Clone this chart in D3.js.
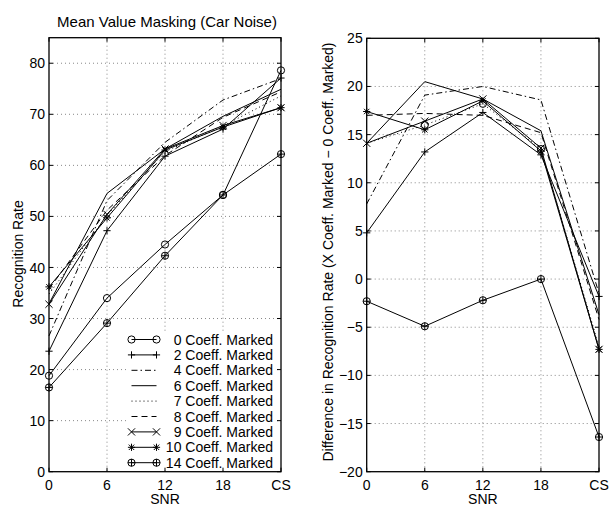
<!DOCTYPE html>
<html><head><meta charset="utf-8">
<script src="https://cdn.jsdelivr.net/npm/d3@7"></script>
<style>
html,body{margin:0;padding:0;background:#fff;}
svg{display:block;font-family:"Liberation Sans",Arial,Helvetica,sans-serif;}
</style></head>
<body><svg id="c" width="611" height="505"></svg>
<script>
// ---- data ----
const snr = ["0","6","12","18","CS"];
const seriesLabels = ["0 Coeff. Marked","2 Coeff. Marked","4 Coeff. Marked","6 Coeff. Marked","7 Coeff. Marked","8 Coeff. Marked","9 Coeff. Marked","10 Coeff. Marked","14 Coeff. Marked"];
const rate0  = [18.8, 34.0, 44.5, 54.2, 78.6];
const rate2  = [23.6, 47.2, 61.8, 67.1, 77.1];
const rate4  = [26.6, 53.1, 64.5, 72.8, 77.0];
const rate6  = [32.9, 54.5, 63.2, 69.6, 74.9];
const rate7  = [34.8, 50.2, 62.7, 67.7, 73.6];
const rate8  = [35.8, 51.2, 61.9, 69.4, 74.4];
const rate9  = [32.8, 50.4, 63.2, 67.8, 71.3];
const rate10 = [36.2, 49.7, 63.0, 67.5, 71.3];
const rate14 = [16.5, 29.1, 42.3, 54.2, 62.2];
const diff2  = [4.8, 13.2, 17.3, 12.9, -1.8];
const diff4  = [7.8, 19.1, 20.0, 18.6, -1.5];
const diff6  = [14.1, 20.5, 18.7, 15.4, -3.7];
const diff7  = [14.1, 16.0, 18.2, 13.5, -7.0];
const diff7Markers = [null, "o", "o", "o", null];
const diff8  = [17.0, 17.2, 17.0, 15.2, -4.2];
const diff9  = [14.1, 16.4, 18.7, 13.6, -7.3];
const diff10 = [17.4, 15.5, 18.5, 13.3, -7.3];
const diff14 = [-2.3, -4.9, -2.2, 0.0, -16.4];
const leftTicks = [0,10,20,30,40,50,60,70,80];
const rightTicks = [-20,-15,-10,-5,0,5,10,15,20,25];
const titleText = "Mean Value Masking (Car Noise)";
const xLabel = "SNR";
const leftYLabel = "Recognition Rate";
const rightYLabel = "Difference in Recognition Rate (X Coeff. Marked \u2212 0 Coeff. Marked)";

// ---- styles ----
const styles = {
  "0":  {dash:null, marker:"o"},
  "2":  {dash:null, marker:"+"},
  "4":  {dash:"6,3,1.5,3", marker:null},
  "6":  {dash:null, marker:null},
  "7":  {dash:"1,3", marker:null},
  "8":  {dash:"6,4", marker:null},
  "9":  {dash:null, marker:"x"},
  "10": {dash:null, marker:"*"},
  "14": {dash:null, marker:"op"}
};
const leftSeries = [["0",rate0],["2",rate2],["4",rate4],["6",rate6],["7",rate7],["8",rate8],["9",rate9],["10",rate10],["14",rate14]];
const rightSeries = [["2",diff2],["4",diff4],["6",diff6],["7",diff7,diff7Markers],["8",diff8],["9",diff9],["10",diff10],["14",diff14]];

const svg = d3.select("#c");
const FS = 14;

function drawMarker(g, type, x, y){
  const r = 3.6;
  function ln(x1,y1,x2,y2){ g.append("line").attr("x1",x1).attr("y1",y1).attr("x2",x2).attr("y2",y2).attr("stroke","#000").attr("stroke-width",1); }
  if(type==="o"||type==="op"){
    g.append("circle").attr("cx",x).attr("cy",y).attr("r",r).attr("fill","none").attr("stroke","#000").attr("stroke-width",1);
    if(type==="op"){ ln(x-r,y,x+r,y); ln(x,y-r,x,y+r); }
  } else if(type==="+"){
    ln(x-r,y,x+r,y); ln(x,y-r,x,y+r);
  } else if(type==="x"){
    ln(x-r,y-r,x+r,y+r); ln(x-r,y+r,x+r,y-r);
  } else if(type==="*"){
    ln(x-r,y,x+r,y); ln(x,y-r,x,y+r);
    const q=r*0.75; ln(x-q,y-q,x+q,y+q); ln(x-q,y+q,x+q,y-q);
  }
}

function panel(opt){
  const x = d3.scalePoint().domain(snr).range([opt.x0,opt.x1]);
  const y = d3.scaleLinear().domain(opt.ydom).range([opt.y1,opt.y0]);
  const g = svg.append("g");
  // grid
  g.selectAll(".gx").data(snr.slice(1,-1)).enter().append("line")
    .attr("x1",d=>x(d)).attr("x2",d=>x(d)).attr("y1",opt.y0).attr("y2",opt.y1)
    .attr("stroke","#888").attr("stroke-width",1).attr("stroke-dasharray","1,3");
  g.selectAll(".gy").data(opt.gridTicks).enter().append("line")
    .attr("x1",opt.x0).attr("x2",opt.x1).attr("y1",d=>y(d)).attr("y2",d=>y(d))
    .attr("stroke","#888").attr("stroke-width",1).attr("stroke-dasharray","1,3");
  // series
  const line = d3.line().x((d,i)=>x(snr[i])).y(d=>y(d));
  opt.series.forEach(([key,vals,mk])=>{
    const st = styles[key];
    g.append("path").attr("d",line(vals)).attr("fill","none").attr("stroke","#000")
      .attr("stroke-width",1).attr("stroke-dasharray",st.dash);
    vals.forEach((v,i)=>{
      const m = mk ? mk[i] : st.marker;
      if(m) drawMarker(g,m,x(snr[i]),y(v));
    });
  });
  // legend
  if(opt.legend){
    const lg = svg.append("g");
    lg.append("rect").attr("x",126).attr("y",331).attr("width",150).attr("height",139).attr("fill","#fff");
    seriesLabels.forEach((lab,i)=>{
      const key = lab.split(" ")[0];
      const st = styles[key];
      const cy = 339.5 + i*15.4;
      lg.append("line").attr("x1",131.5).attr("x2",156.5).attr("y1",cy).attr("y2",cy)
        .attr("stroke","#000").attr("stroke-width",1).attr("stroke-dasharray",st.dash);
      if(st.marker){ drawMarker(lg,st.marker,131.5,cy); drawMarker(lg,st.marker,156.5,cy); }
      lg.append("text").attr("x",273).attr("y",cy).attr("dy","0.36em").attr("text-anchor","end")
        .attr("font-size",FS).text(lab);
    });
  }
  // axes box
  const a = svg.append("g");
  a.append("rect").attr("x",opt.x0).attr("y",opt.y0).attr("width",opt.x1-opt.x0).attr("height",opt.y1-opt.y0)
    .attr("fill","none").attr("stroke","#000").attr("stroke-width",1.3);
  const T = 4;
  opt.ticks.forEach(t=>{
    a.append("line").attr("x1",opt.x0).attr("x2",opt.x0+T).attr("y1",y(t)).attr("y2",y(t)).attr("stroke","#000");
    a.append("line").attr("x1",opt.x1).attr("x2",opt.x1-T).attr("y1",y(t)).attr("y2",y(t)).attr("stroke","#000");
    a.append("text").attr("x",opt.x0-4).attr("y",y(t)).attr("dy","0.36em").attr("text-anchor","end")
      .attr("font-size",FS).text(t<0?"\u2212"+Math.abs(t):t);
  });
  snr.forEach(s=>{
    a.append("line").attr("x1",x(s)).attr("x2",x(s)).attr("y1",opt.y1).attr("y2",opt.y1-T).attr("stroke","#000");
    a.append("line").attr("x1",x(s)).attr("x2",x(s)).attr("y1",opt.y0).attr("y2",opt.y0+T).attr("stroke","#000");
    a.append("text").attr("x",x(s)).attr("y",490).attr("text-anchor","middle").attr("font-size",FS).text(s);
  });
  a.append("text").attr("x",(opt.x0+opt.x1)/2).attr("y",504).attr("text-anchor","middle").attr("font-size",FS).text(xLabel);
  a.append("text").attr("transform",`translate(${opt.ylabX},${opt.ylabY}) rotate(-90)`)
    .attr("text-anchor","middle").attr("font-size",FS).text(opt.ylab);
  if(opt.title) a.append("text").attr("x",(opt.x0+opt.x1)/2+2).attr("y",27).attr("text-anchor","middle")
    .attr("font-size",15).text(opt.title);
}

panel({x0:49,x1:281,y0:37.7,y1:471.7,ydom:[0,85],ticks:leftTicks,gridTicks:[10,20,30,40,50,60,70,80],
  series:leftSeries,legend:true,ylab:leftYLabel,ylabX:23,ylabY:254,title:titleText});
panel({x0:366.7,x1:599,y0:38.3,y1:471.7,ydom:[-20,25],ticks:rightTicks,gridTicks:[-15,-10,-5,0,5,10,15,20],
  series:rightSeries,legend:false,ylab:rightYLabel,ylabX:333,ylabY:252});
</script></body></html>
